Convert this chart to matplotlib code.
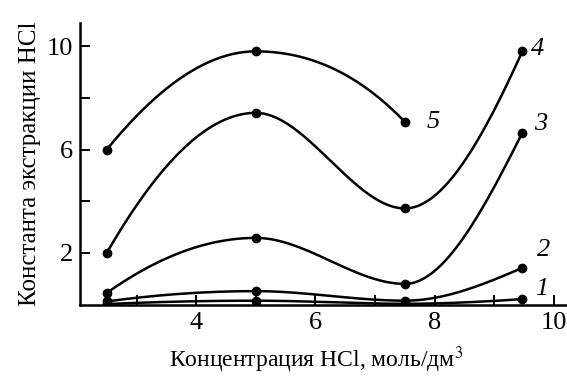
import numpy as np
import matplotlib
matplotlib.use("Agg")
import matplotlib.pyplot as plt

# concentrations, mol/dm3
x_4 = [2.5, 5.0, 7.5, 9.47]
x_5 = [2.5, 5.0, 7.5]

# extraction constants per curve
k1 = [0.02, 0.15, 0.03, 0.21]
k2 = [0.12, 0.52, 0.15, 1.42]
k3 = [0.45, 2.58, 0.80, 6.65]
k4 = [2.0, 7.42, 3.72, 9.8]
k5 = [6.0, 9.8, 7.07]

curve_labels = ["1", "2", "3", "4", "5"]


def pchip(x, y, n=200):
    # shape-preserving cubic (Fritsch-Carlson), keeps extrema at the points
    x = np.asarray(x, float)
    y = np.asarray(y, float)
    h = np.diff(x)
    d = np.diff(y) / h
    m = np.zeros_like(y)
    for i in range(1, len(x) - 1):
        if d[i - 1] * d[i] > 0:
            w1 = 2 * h[i] + h[i - 1]
            w2 = h[i] + 2 * h[i - 1]
            m[i] = (w1 + w2) / (w1 / d[i - 1] + w2 / d[i])
    m[0] = ((2 * h[0] + h[1]) * d[0] - h[0] * d[1]) / (h[0] + h[1])
    if np.sign(m[0]) != np.sign(d[0]):
        m[0] = 0
    m[-1] = ((2 * h[-1] + h[-2]) * d[-1] - h[-1] * d[-2]) / (h[-1] + h[-2])
    if np.sign(m[-1]) != np.sign(d[-1]):
        m[-1] = 0
    xs = np.linspace(x[0], x[-1], n)
    idx = np.clip(np.searchsorted(x, xs) - 1, 0, len(x) - 2)
    t = (xs - x[idx]) / h[idx]
    h00 = 2 * t ** 3 - 3 * t ** 2 + 1
    h10 = t ** 3 - 2 * t ** 2 + t
    h01 = -2 * t ** 3 + 3 * t ** 2
    h11 = t ** 3 - t ** 2
    ys = (h00 * y[idx] + h10 * h[idx] * m[idx]
          + h01 * y[idx + 1] + h11 * h[idx] * m[idx + 1])
    return xs, ys


plt.rcParams["font.family"] = ["Liberation Serif", "DejaVu Serif"]
plt.rcParams["mathtext.fontset"] = "stix"

fig = plt.figure(figsize=(5.67, 3.76), dpi=100)
ax = fig.add_axes([0.141, 0.19, 0.857, 0.749])

series = [(x_4, k1), (x_4, k2), (x_4, k3), (x_4, k4), (x_5, k5)]
for xv, yv in series:
    xs, ys = pchip(xv, yv)
    ax.plot(xs, ys, color="black", lw=1.8, zorder=2)
    ax.plot(xv, yv, "o", color="black", ms=6, zorder=3)

label_pos = [(9.8, 0.6), (9.83, 2.12), (9.77, 6.97), (9.73, 9.88), (7.97, 7.05)]
for txt, (lx, ly) in zip(curve_labels, label_pos):
    ax.text(lx, ly, txt, fontsize=19, style="italic", ha="center", va="center")

ax.set_xlim(2.05, 10.2)
ax.set_ylim(0, 10.9)
ax.set_xticks(np.arange(3, 11, 1))
ax.set_xticklabels(["", "4", "", "6", "", "8", "", "10"])
ax.set_yticks([2, 4, 6, 8, 10])
ax.set_yticklabels(["2", "", "6", "", "10"])
ax.tick_params(direction="in", length=7, width=1.4, labelsize=19, pad=5)
for side in ("top", "right"):
    ax.spines[side].set_visible(False)
for side in ("left", "bottom"):
    ax.spines[side].set_linewidth(1.8)

ax.set_xlabel("Концентрация HCl, моль/дм$^3$", fontsize=17)
ax.xaxis.set_label_coords(0.486, -0.14)
ax.set_ylabel("Константа экстракции HCl", fontsize=18, labelpad=4)

fig.savefig("out.png", dpi=100)
